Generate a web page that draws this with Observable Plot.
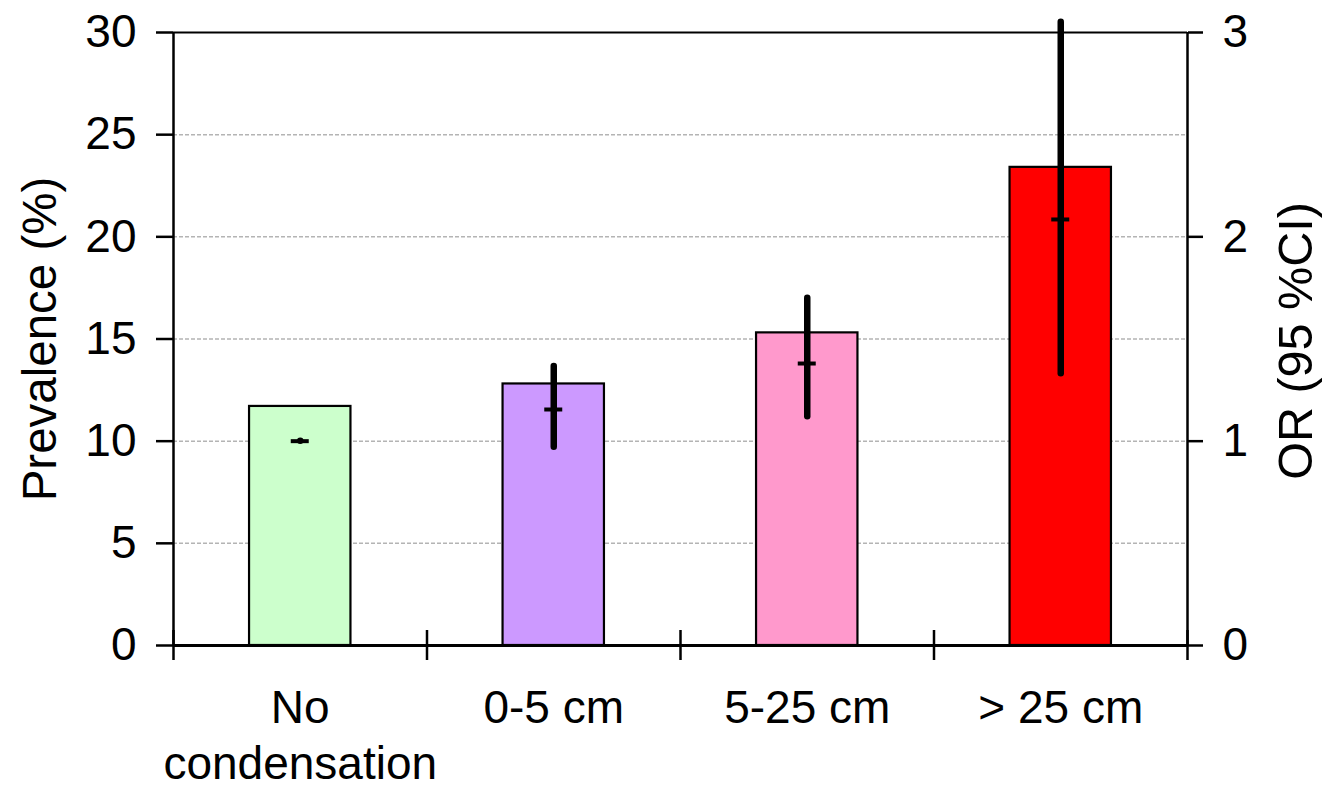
<!DOCTYPE html>
<html><head><meta charset="utf-8">
<script src="https://cdn.jsdelivr.net/npm/d3@7"></script>
<script src="https://cdn.jsdelivr.net/npm/@observablehq/plot@0.6"></script>
<style>html,body{margin:0;padding:0;background:#fff} svg{display:block}</style>
</head><body><div id="chart"></div>
<script>
const categories = ["No\ncondensation", "0-5 cm", "5-25 cm", "> 25 cm"];
const prevalence = [11.7, 12.8, 15.3, 23.4];
const orValue = [1.0, 1.155, 1.38, 2.085];
const orLow = [1.0, 0.97, 1.12, 1.33];
const orHigh = [1.0, 1.365, 1.70, 3.05];
const colors = ["#CCFFCC", "#CC99FF", "#FF99CC", "#FF0000"];
const yTicks = [0, 5, 10, 15, 20, 25, 30];
const orTicks = [0, 1, 2, 3];
const gridTicks = [5, 10, 15, 20, 25];

const OR_SCALE = 10; // right axis (0–3) shares the left axis (0–30)
const data = categories.map((c, i) => ({
  c, i, prev: prevalence[i], or: orValue[i], lo: orLow[i], hi: orHigh[i], color: colors[i]
}));
const boundaries = d3.range(categories.length + 1);
const font = "'Liberation Sans', Arial, sans-serif";

const chart = Plot.plot({
  width: 1330, height: 792,
  marginLeft: 173, marginRight: 143, marginTop: 32, marginBottom: 147,
  style: {fontFamily: font, fontSize: "46px", color: "#000", background: "#fff"},
  x: {domain: [0, categories.length], axis: null},
  y: {domain: [0, 30], axis: null},
  marks: [
    Plot.ruleY(gridTicks, {stroke: "#b4b4b4", strokeWidth: 1.5, strokeDasharray: "4,2"}),
    Plot.rectY(data, {x1: d => d.i + 0.3, x2: d => d.i + 0.7, y: "prev", fill: d => d.color, stroke: "#000", strokeWidth: 2.2}),
    Plot.ruleX(data, {x: d => d.i + 0.5, y1: d => d.lo * OR_SCALE, y2: d => d.hi * OR_SCALE, stroke: "#000", strokeWidth: 6.5, strokeLinecap: "round"}),
    Plot.ruleY(data, {y: d => d.or * OR_SCALE, x1: d => d.i + 0.5, x2: d => d.i + 0.5, insetLeft: -9, insetRight: -9, stroke: "#000", strokeWidth: 4}),
    // frame
    Plot.ruleX([0, categories.length], {stroke: "#000", strokeWidth: 2.5}),
    Plot.ruleY([30], {stroke: "#000", strokeWidth: 2}),
    Plot.ruleY([0], {stroke: "#000", strokeWidth: 3}),
    Plot.ruleX(boundaries, {y1: 0, y2: 0, insetTop: -15, insetBottom: -15, stroke: "#000", strokeWidth: 2.5}),
    // axes
    Plot.axisY(yTicks, {anchor: "left", tickSize: 17, tickPadding: 20, strokeWidth: 2.5, label: null, fontSize: 46}),
    Plot.axisY(orTicks.map(d => d * OR_SCALE), {anchor: "right", tickSize: 15, tickPadding: 20, strokeWidth: 2.5, tickFormat: d => d / OR_SCALE, label: null, fontSize: 46}),
    Plot.text(data, {x: d => d.i + 0.5, text: "c", frameAnchor: "bottom", lineAnchor: "top", dy: 38, lineHeight: 1.22, fontSize: 46}),
    Plot.text(["Prevalence (%)"], {text: d => d, frameAnchor: "left", textAnchor: "middle", lineAnchor: "middle", rotate: -90, dx: -133, fontSize: 47.5}),
    Plot.text(["OR (95 %CI)"], {text: d => d, frameAnchor: "right", textAnchor: "middle", lineAnchor: "middle", rotate: -90, dx: 109, dy: 2, fontSize: 48.5})
  ]
});
document.getElementById("chart").appendChild(chart);
</script>
</body></html>
